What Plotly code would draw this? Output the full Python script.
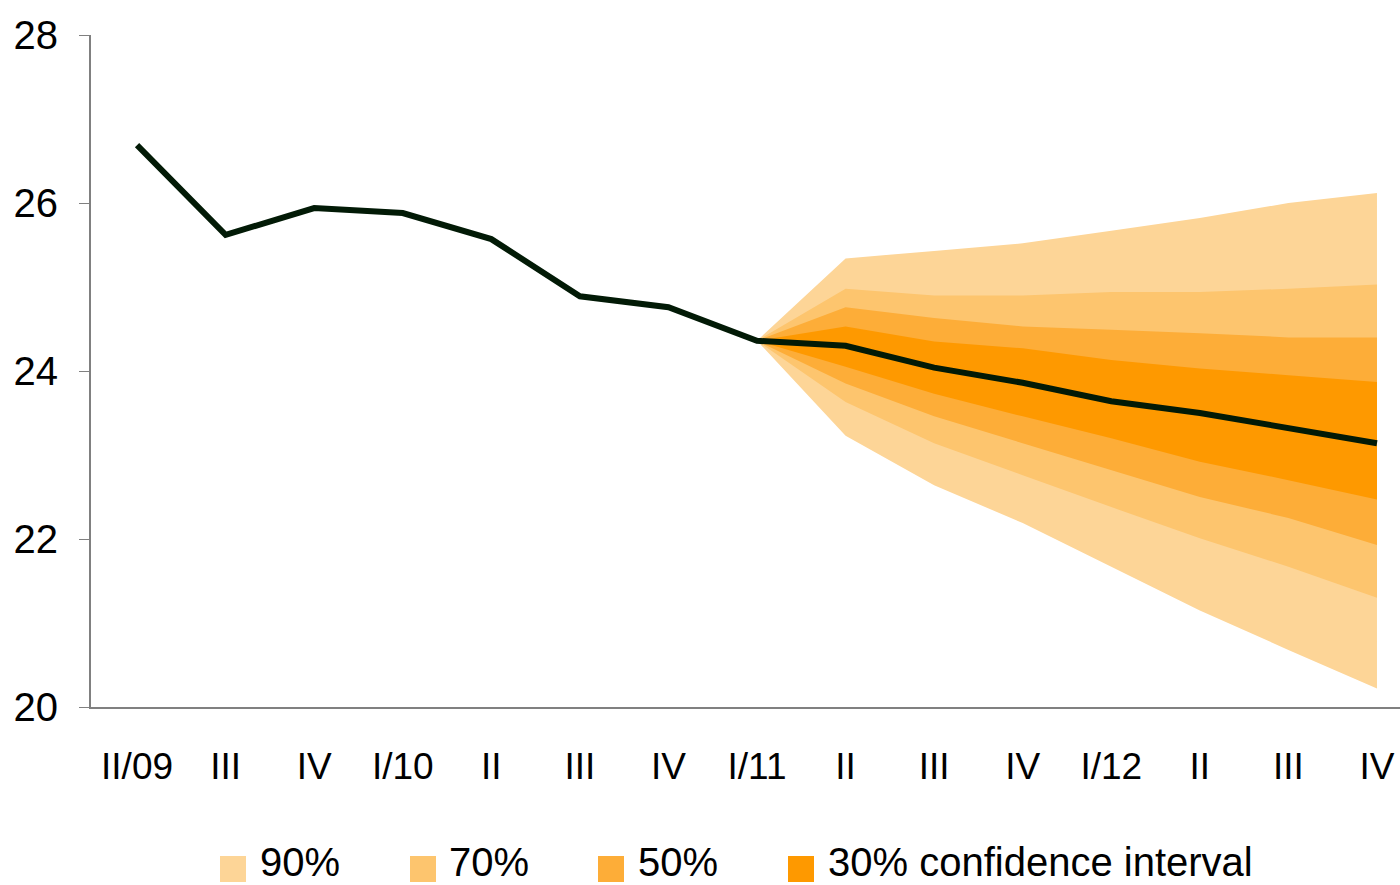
import plotly.graph_objects as go

quarters = ["II/09", "III", "IV", "I/10", "II", "III", "IV", "I/11",
            "II", "III", "IV", "I/12", "II", "III", "IV"]
actual = [26.69, 25.62, 25.94, 25.88, 25.57, 24.89, 24.76, 24.36,
          24.30, 24.04, 23.86, 23.64, 23.50, 23.32, 23.14]

# forecast fan starts at I/11 (index 7)
fan_start = 7
upper90 = [24.36, 25.34, 25.43, 25.52, 25.67, 25.82, 26.00, 26.12]
upper70 = [24.36, 24.98, 24.90, 24.90, 24.94, 24.94, 24.98, 25.03]
upper50 = [24.36, 24.76, 24.63, 24.53, 24.49, 24.45, 24.40, 24.40]
upper30 = [24.36, 24.53, 24.35, 24.27, 24.13, 24.03, 23.95, 23.87]
lower30 = [24.36, 24.05, 23.73, 23.46, 23.20, 22.92, 22.70, 22.47]
lower50 = [24.36, 23.85, 23.46, 23.14, 22.82, 22.50, 22.25, 21.93]
lower70 = [24.36, 23.63, 23.14, 22.76, 22.38, 22.01, 21.67, 21.30]
lower90 = [24.36, 23.23, 22.64, 22.19, 21.67, 21.15, 20.68, 20.22]

band_names = ["90%", "70%", "50%", "30% confidence interval"]
band_colors = ["#FDD597", "#FDC56E", "#FDAD38", "#FE9900"]
bands = [(upper90, lower90), (upper70, lower70), (upper50, lower50), (upper30, lower30)]

xs = list(range(len(quarters)))
fx = xs[fan_start:]

W, H = 1400, 885
ML, MR, MT, MB = 91, 0, 35, 178
PW, PH = W - ML - MR, H - MT - MB

fig = go.Figure()
for (up, lo), col in zip(bands, band_colors):
    fig.add_trace(go.Scatter(
        x=fx + fx[::-1], y=up + lo[::-1], fill="toself", fillcolor=col,
        mode="lines", line=dict(width=0, color=col), hoverinfo="skip",
        showlegend=False))

fig.add_trace(go.Scatter(x=xs, y=actual, mode="lines",
                         line=dict(color="#021a06", width=6),
                         showlegend=False))

# manual legend (pixel layout converted to paper coordinates)
legend_square_left = [220, 410, 598, 788]
legend_text_left = [258, 447, 636, 826]
legend_square_center_y = 869
legend_text_center_y = 862
sq = 26


def px_x(p):
    return (p - ML) / PW


def px_y(p):
    return (H - MB - p) / PH


shapes = []
annotations = []
for name, col, sx, tx in zip(band_names, band_colors, legend_square_left, legend_text_left):
    shapes.append(dict(type="rect", xref="paper", yref="paper",
                       x0=px_x(sx), x1=px_x(sx + sq),
                       y0=px_y(legend_square_center_y + sq / 2),
                       y1=px_y(legend_square_center_y - sq / 2),
                       fillcolor=col, line=dict(width=0)))
    annotations.append(dict(xref="paper", yref="paper", x=px_x(tx), y=px_y(legend_text_center_y),
                            xanchor="left", yanchor="middle", showarrow=False, text=name,
                            font=dict(family="Liberation Sans, Arial", size=40, color="black")))

fig.update_layout(
    width=W, height=H,
    margin=dict(l=ML, r=MR, t=MT, b=MB, autoexpand=False),
    paper_bgcolor="white", plot_bgcolor="white",
    showlegend=False,
    shapes=shapes, annotations=annotations,
    font=dict(family="Liberation Sans, Arial", color="black"),
)
fig.update_xaxes(
    range=[-0.52, 14.26], tickmode="array", tickvals=xs, ticktext=quarters,
    showgrid=False, zeroline=False, showline=True, linecolor="#808080", linewidth=2,
    ticks="", tickfont=dict(family="Liberation Sans, Arial", size=37, color="black"),
    ticklabelstandoff=26,
)
fig.update_yaxes(
    range=[20, 28], tickvals=[20, 22, 24, 26, 28], showgrid=False, zeroline=False,
    showline=True, linecolor="#808080", linewidth=2, ticks="outside", ticklen=10,
    tickcolor="#808080", tickwidth=1,
    tickfont=dict(family="Liberation Sans, Arial", size=40, color="black"),
    ticklabelstandoff=13,
)

fig.write_html(
    "out.html",
    config={"displayModeBar": False},
    post_script="document.body.style.margin='0';document.body.style.overflow='hidden';",
)
